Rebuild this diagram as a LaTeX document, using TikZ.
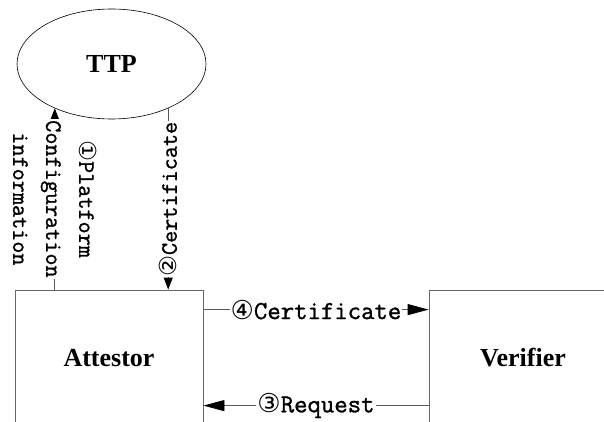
\documentclass[tikz,border=0pt]{standalone}
\usepackage{fontspec}
\setmainfont{Liberation Serif}
\newfontfamily\circfont{DejaVu Sans}
\newfontfamily\flowfont[FakeBold=1.2]{Latin Modern Mono}
\newcommand\stepno[1]{{\circfont #1}}
\usetikzlibrary{arrows.meta,shapes.geometric,calc}
\begin{document}
\begin{tikzpicture}[x=1pt,y=-1pt,
  entity/.style={draw=black!60, line width=0.8pt, minimum width=188pt,
    minimum height=136pt, inner sep=0pt,
    font=\bfseries\fontsize{26}{30}\selectfont},
  party/.style={ellipse, draw=black, line width=0.6pt, minimum width=189pt,
    minimum height=110pt, inner sep=0pt,
    font=\bfseries\fontsize{26}{30}\selectfont},
  flow/.style={draw=black!65, line width=0.8pt},
  bigtip/.style={-{Triangle[length=21pt,width=11pt,color=black]}},
  smalltip/.style={-{Triangle[length=12pt,width=9pt,color=black]}},
  hlabel/.style={fill=white, inner sep=1pt,
    font=\flowfont\fontsize{26}{30}\selectfont},
  vlabel/.style={fill=white, inner sep=1pt, align=center,
    font=\flowfont\fontsize{23.5}{33}\selectfont}]
\useasboundingbox (0,0) rectangle (604,422);
\clip (0,0) rectangle (604,422);

% parties
\node[party]  (ttp)      at (111.5,64) {TTP};
\node[entity] (attestor) at (109,358)  {Attestor};
\node[entity] (verifier) at (523,358)  {Verifier};

% TTP <-> Attestor
\draw[flow, smalltip] (ttp.218 |- attestor.north) --
  node[vlabel, rotate=-90] {\stepno{①}Platform\\Configuration\\information} (ttp.218);
\draw[flow, smalltip] (ttp.322) --
  node[vlabel, rotate=90] {\stepno{②}Certificate} (ttp.322 |- attestor.north);

% Attestor <-> Verifier
\draw[flow, bigtip] ($(attestor.north east)+(0,20)$) --
  node[hlabel] {\stepno{④}Certificate} ($(verifier.north west)+(0,20)$);
\draw[flow, bigtip] ($(verifier.north west)+(0,116)$) --
  node[hlabel] {\stepno{③}Request} ($(attestor.north east)+(0,116)$);
\end{tikzpicture}
\end{document}
